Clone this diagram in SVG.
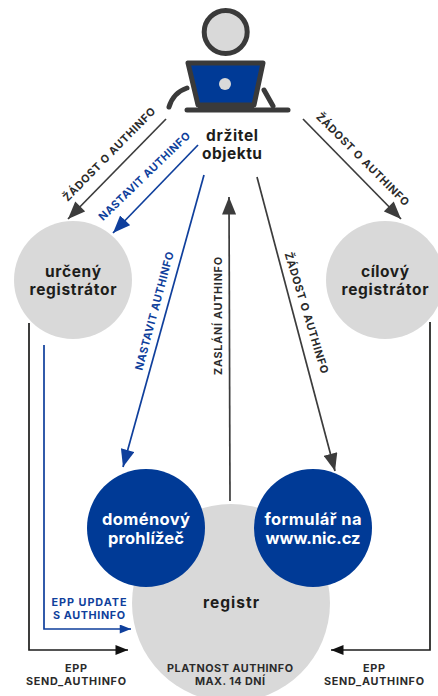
<svg xmlns="http://www.w3.org/2000/svg" width="438" height="696" viewBox="0 0 438 696">
<style>
text{font-family:Inter,"Liberation Sans",sans-serif;font-weight:700;text-anchor:middle}
.n{font-size:15.500px;fill:#1d1d1b}
.w{font-size:16.500px;fill:#fff}
.s{font-size:10.800px;fill:#2b2b2b}
.b{fill:#003a96}
.g{fill:#d9d9d9}
.lk{fill:none;stroke:#3c3c3c;stroke-width:1.700}
.lb{fill:none;stroke:#0f3f9c;stroke-width:1.700}
.lt{fill:none;stroke:#1d1d1b;stroke-width:1.700}
.i{fill:none;stroke:#3a3a3a;stroke-width:5;stroke-linecap:round;stroke-linejoin:round}
</style>
<defs>
<marker id="ak" viewBox="0 0 10 8" markerUnits="userSpaceOnUse" markerWidth="18" markerHeight="14" refX="10" refY="4" orient="auto"><path d="M0 0L10 4L0 8z" fill="#3c3c3c"/></marker>
<marker id="ab" viewBox="0 0 10 8" markerUnits="userSpaceOnUse" markerWidth="18" markerHeight="14" refX="10" refY="4" orient="auto"><path d="M0 0L10 4L0 8z" fill="#0f3f9c"/></marker>
<marker id="at" viewBox="0 0 10 8" markerUnits="userSpaceOnUse" markerWidth="14" markerHeight="10" refX="10" refY="4" orient="auto"><path d="M0 0L10 4L0 8z" fill="#111"/></marker>
<marker id="abs" viewBox="0 0 10 8" markerUnits="userSpaceOnUse" markerWidth="13" markerHeight="9" refX="10" refY="4" orient="auto"><path d="M0 0L10 4L0 8z" fill="#0f3f9c"/></marker>
</defs>
<g id="registr"><circle class="g" cx="231" cy="603" r="99"/><text class="n" x="231" y="608" textLength="56">registr</text>
<text class="s" x="230" y="672" textLength="126">PLATNOST AUTHINFO</text><text class="s" x="230" y="685" textLength="70">MAX. 14 DNÍ</text></g>
<g id="holder">
<circle cx="225.700" cy="32" r="21.500" fill="#d9d9d9" stroke="#3a3a3a" stroke-width="5"/>
<path d="M188 63H263L254 105H198Z" fill="#003a96" stroke="#3a3a3a" stroke-width="5" stroke-linejoin="round"/>
<path d="M198 105H254V110H198Z" fill="#3a3a3a"/>
<circle cx="225" cy="84" r="6" fill="#d9d9d9"/>
<path class="i" d="M187 110H288"/>
<path class="i" d="M169 107C172 97 178 91 187 88"/>
<path class="i" d="M264 90L273 106"/>
<text class="n" x="232" y="141" textLength="52">držitel</text><text class="n" x="232" y="159" textLength="60">objektu</text></g>
<g id="urceny"><circle class="g" cx="73" cy="280" r="59"/><text class="n" x="73" y="277" textLength="56">určený</text><text class="n" x="73" y="295" textLength="87">registrátor</text></g>
<g id="cilovy"><circle class="g" cx="385" cy="280" r="59"/><text class="n" x="385" y="277" textLength="48">cílový</text><text class="n" x="385" y="295" textLength="87">registrátor</text></g>
<g id="domenovy"><circle class="b" cx="146" cy="528" r="59"/><text class="w" x="146" y="525" textLength="88">doménový</text><text class="w" x="146" y="544" textLength="76">prohlížeč</text></g>
<g id="formular"><circle class="b" cx="313" cy="528" r="59"/><text class="w" x="313" y="525" textLength="97">formulář na</text><text class="w" x="313" y="544" textLength="95">www.nic.cz</text></g>
<g id="connectors">
<path class="lk" d="M166 119L68 219" marker-end="url(#ak)"/>
<path class="lb" d="M198 145L113 233" marker-end="url(#ab)"/>
<path class="lb" d="M204 175L123 467" marker-end="url(#ab)"/>
<path class="lk" d="M230 501L229 197" marker-end="url(#ak)"/>
<path class="lk" d="M257 177L335 471" marker-end="url(#ak)"/>
<path class="lk" d="M303 119L401 219" marker-end="url(#ak)"/>
<path class="lt" d="M29 323V650H128" marker-end="url(#at)"/>
<path class="lb" d="M44 345V629H131" marker-end="url(#abs)"/>
<path class="lt" d="M430 322V650H331" marker-end="url(#at)"/>
<text class="s" transform="translate(112 157) rotate(-45.500)" textLength="126">ŽÁDOST O AUTHINFO</text>
<text class="s" style="fill:#0f3f9c" transform="translate(147 179) rotate(-44)" textLength="122">NASTAVIT AUTHINFO</text>
<text class="s" style="fill:#0f3f9c" transform="translate(158 312) rotate(-75)" textLength="122">NASTAVIT AUTHINFO</text>
<text class="s" transform="translate(222 316) rotate(-90)" textLength="118">ZASLÁNÍ AUTHINFO</text>
<text class="s" transform="translate(303 314) rotate(73)" textLength="126">ŽÁDOST O AUTHINFO</text>
<text class="s" transform="translate(360 162) rotate(45)" textLength="126">ŽÁDOST O AUTHINFO</text>
<text class="s" x="76" y="672" textLength="22">EPP</text><text class="s" x="76" y="685" textLength="100">SEND_AUTHINFO</text>
<text class="s" x="374" y="672" textLength="22">EPP</text><text class="s" x="374" y="685" textLength="100">SEND_AUTHINFO</text>
<text class="s" style="fill:#0f3f9c" x="89" y="606" textLength="75">EPP UPDATE</text><text class="s" style="fill:#0f3f9c" x="89" y="619" textLength="72">S AUTHINFO</text>
</g>
</svg>
